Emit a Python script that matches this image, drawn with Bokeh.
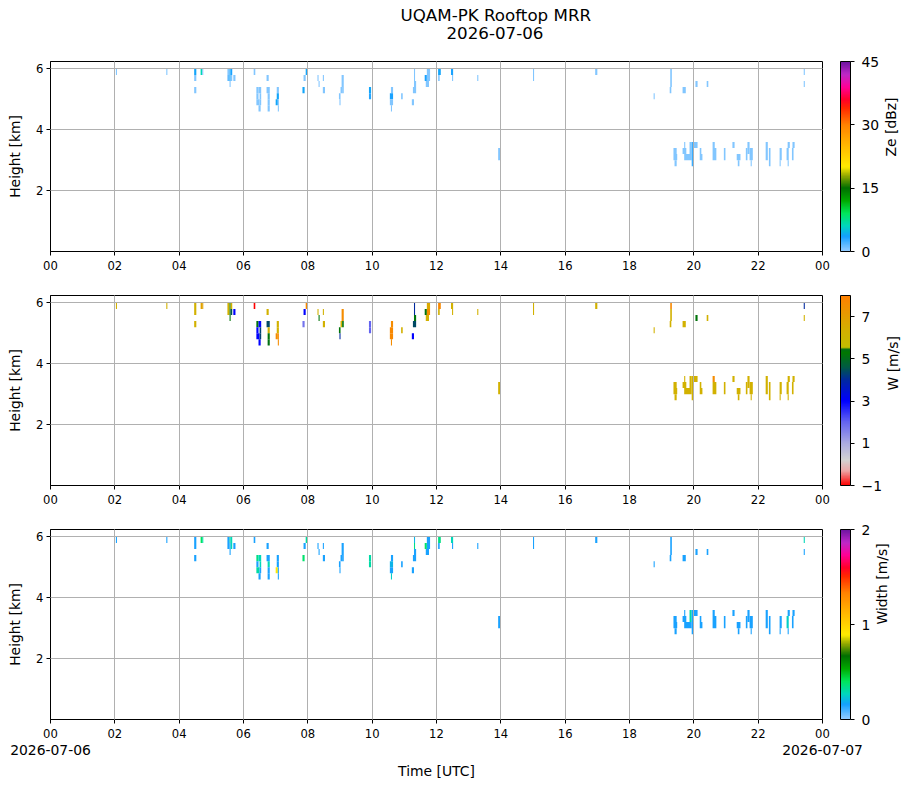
import math
import numpy as np
from bokeh.plotting import figure
from bokeh.models import (ColumnDataSource, LinearColorMapper, ColorBar, FixedTicker,
                          LinearAxis, Range1d, Title)
from bokeh.layouts import column
from bokeh.transform import transform
from bokeh.embed import file_html
from bokeh.resources import INLINE

FONT = "DejaVu Sans"

# ---------------- text / ticks ----------------
title_line1 = "UQAM-PK Rooftop MRR"
title_line2 = "2026-07-06"
hour_ticks = [0, 2, 4, 6, 8, 10, 12, 14, 16, 18, 20, 22, 24]
hour_labels = ["00", "02", "04", "06", "08", "10", "12", "14", "16", "18", "20", "22", "00"]
date_ticks = [0, 24]
date_labels = ["2026-07-06", "2026-07-07"]
height_ticks = [2, 4, 6]
x_label = "Time [UTC]"
y_label = "Height [km]"

ze_label, ze_ticks, ze_lim = "Ze [dBz]", [0, 15, 30, 45], (0, 45)
w_label, w_ticks, w_lim = "W [m/s]", [-1, 1, 3, 5, 7], (-1, 8)
sw_label, sw_ticks, sw_lim = "Width [m/s]", [0, 1, 2], (0, 2)

# ---------------- data: radar cells (time in minutes UTC, height gates in km) ----------------
t_start = [122, 216, 268, 268, 268, 280, 283, 330, 330, 334, 334, 334, 336, 336, 341, 379,
           403, 384, 388, 384, 390, 384, 390, 388, 403, 405, 405, 405, 422, 422, 420, 424,
           424, 470, 472, 476, 498, 500, 508, 508, 543, 543, 541, 544, 538, 539, 594, 594,
           635, 633, 633, 635, 654, 674, 678, 678, 678, 676, 698, 702, 702, 700, 719, 723,
           723, 747, 749, 796, 900, 1016, 1125, 1156, 1156, 1155, 1179, 1203, 1224, 1405, 1405,
           835, 1162, 1162, 1164, 1182, 1179, 1182, 1192, 1196, 1199, 1211, 1211, 1235, 1235,
           1256, 1272, 1280, 1282, 1297, 1300, 1304, 1306, 1334, 1340, 1360, 1360, 1373, 1375,
           1375, 1383, 1384]
t_end = [124, 218, 272, 272, 272, 283, 285, 334, 334, 336, 336, 336, 339, 339, 345, 382,
         407, 388, 393, 388, 393, 390, 393, 392, 409, 409, 409, 409, 426, 426, 424, 426,
         426, 474, 476, 480, 500, 502, 510, 512, 547, 547, 544, 547, 541, 541, 598, 598,
         639, 639, 639, 637, 657, 678, 680, 680, 682, 682, 702, 708, 708, 706, 721, 728,
         726, 751, 751, 798, 902, 1020, 1127, 1159, 1159, 1158, 1185, 1207, 1227, 1407, 1407,
         839, 1168, 1169, 1168, 1184, 1186, 1196, 1196, 1199, 1207, 1214, 1216, 1239, 1242,
         1259, 1276, 1287, 1285, 1300, 1304, 1310, 1308, 1338, 1343, 1364, 1362, 1377, 1377,
         1379, 1386, 1388]
h_bot = [5.8, 5.8, 5.8, 5.6, 5.2, 5.8, 5.8, 5.8, 5.6, 5.8, 5.6, 5.4, 5.8, 5.6, 5.6, 5.8,
         5.6, 5.2, 5.2, 5.0, 5.0, 4.8, 4.8, 4.6, 5.2, 5.0, 4.8, 4.6, 5.2, 5.0, 4.8, 4.8,
         4.6, 5.2, 5.6, 5.8, 5.6, 5.4, 5.6, 5.2, 5.6, 5.4, 5.2, 5.2, 5.0, 4.8, 5.2, 5.0,
         5.2, 5.0, 4.8, 4.6, 5.0, 4.8, 5.8, 5.6, 5.4, 5.2, 5.6, 5.8, 5.6, 5.4, 5.6, 5.8,
         5.6, 5.8, 5.6, 5.6, 5.6, 5.8, 5.0, 5.8, 5.4, 5.2, 5.2, 5.4, 5.4, 5.8, 5.4,
         3.0, 3.2, 3.0, 2.8, 3.4, 3.2, 3.0, 3.2, 2.8, 3.4, 3.2, 3.0, 3.4, 3.0,
         3.0, 3.4, 3.0, 2.8, 3.0, 3.2, 3.0, 2.8, 3.0, 2.8, 3.0, 2.8, 3.0, 2.8,
         3.4, 3.0, 3.4]
h_top = [6.0, 6.0, 6.0, 5.8, 5.4, 6.0, 6.0, 6.0, 5.8, 6.0, 5.8, 5.6, 6.0, 5.8, 5.8, 6.0,
         5.8, 5.4, 5.4, 5.2, 5.2, 5.0, 5.0, 4.8, 5.4, 5.2, 5.0, 4.8, 5.4, 5.2, 5.0, 5.0,
         4.8, 5.4, 5.8, 6.0, 5.8, 5.6, 5.8, 5.4, 5.8, 5.6, 5.4, 5.4, 5.2, 5.0, 5.4, 5.2,
         5.4, 5.2, 5.0, 4.8, 5.2, 5.0, 6.0, 5.8, 5.6, 5.4, 5.8, 6.0, 5.8, 5.6, 5.8, 6.0,
         5.8, 6.0, 5.8, 5.8, 6.0, 6.0, 5.2, 6.0, 5.8, 5.4, 5.4, 5.6, 5.6, 6.0, 5.6,
         3.4, 3.4, 3.2, 3.0, 3.6, 3.4, 3.2, 3.6, 3.6, 3.6, 3.4, 3.2, 3.6, 3.4,
         3.4, 3.6, 3.2, 3.0, 3.4, 3.6, 3.4, 3.0, 3.6, 3.4, 3.4, 3.0, 3.4, 3.0,
         3.6, 3.4, 3.6]
ze_dbz = [0.6, 0.6, 3.8, 0.6, 0.6, 6.5, 0.6, 0.6, 1.5, 3.8, 3.8, 0.6, 3.5, 0.6, 0.6, 0.6,
          0.6, 0.6, 0.6, 0.6, 0.6, 0.6, 0.6, 0.6, 0.6, 0.6, 0.6, 0.6, 0.6, 3.8, 3.8, 0.6,
          0.6, 3.8, 0.6, 3.8, 0.6, 0.6, 0.6, 0.6, 0.6, 0.6, 0.6, 0.6, 0.6, 0.6, 3.8, 3.0,
          0.6, 3.5, 0.6, 0.6, 0.6, 0.6, 0.6, 0.6, 0.6, 0.6, 3.5, 0.6, 0.6, 0.6, 0.6, 3.8,
          0.6, 3.5, 0.6, 0.6, 0.6, 0.6, 0.6, 0.6, 0.6, 0.6, 0.6, 0.6, 0.6, 0.6, 0.6,
          0.6, 0.6, 0.6, 0.6, 0.6, 0.6, 0.6, 0.6, 2.5, 0.6, 0.6, 0.6, 0.6, 0.6,
          0.6, 0.6, 0.6, 0.6, 0.6, 0.6, 0.6, 0.6, 0.6, 0.6, 0.6, 0.6, 0.6, 0.6,
          0.6, 0.6, 0.6]
w_ms = [6.3, 6.3, 6.3, 6.3, 6.3, 6.9, 6.9, 6.3, 6.3, 5.2, 5.2, 5.2, 6.3, 4.5, 3.0, -1.0,
        6.3, 5.2, 3.0, 3.0, 4.3, 3.0, 4.3, 3.0, 4.4, 6.3, 5.2, 5.1, 6.3, 6.3, 7.6, 7.6,
        7.6, 1.8, 3.0, 7.7, 6.3, 5.2, 6.3, 6.3, 7.6, 7.6, 6.3, 5.2, 5.2, 4.0, 2.0, 2.0,
        7.6, 7.7, 7.7, 7.6, 6.3, 3.0, 4.0, 4.0, 5.2, 4.4, 5.2, 6.6, 7.6, 6.3, 4.4, 7.7,
        6.3, 6.3, 6.3, 6.3, 6.3, 6.3, 6.3, 7.7, 6.3, 6.3, 6.3, 5.2, 6.3, 4.0, 6.3,
        6.3, 6.3, 6.3, 6.3, 6.3, 6.3, 6.3, 6.3, 6.3, 6.3, 6.3, 6.3, 7.6, 6.3,
        6.3, 6.3, 6.3, 6.3, 6.3, 6.3, 6.3, 6.3, 6.3, 6.3, 6.3, 6.3, 6.3, 6.3,
        6.3, 6.3, 6.3]
sw_ms = [0.15, 0.15, 0.15, 0.15, 0.15, 0.4, 0.3, 0.15, 0.15, 0.3, 0.15, 0.15, 0.28, 0.28, 0.15, 0.15,
         0.15, 0.35, 0.28, 0.15, 0.28, 0.3, 0.15, 0.15, 0.15, 0.28, 0.15, 0.15, 0.15, 0.15, 0.9, 0.15,
         0.15, 0.38, 0.15, 0.32, 0.15, 0.15, 0.15, 0.15, 0.15, 0.15, 0.15, 0.15, 0.15, 0.15, 0.3, 0.3,
         0.15, 0.2, 0.15, 0.25, 0.15, 0.15, 0.2, 0.35, 0.15, 0.15, 0.38, 0.15, 0.15, 0.15, 0.15, 0.35,
         0.15, 0.28, 0.15, 0.15, 0.15, 0.15, 0.15, 0.15, 0.15, 0.15, 0.15, 0.15, 0.15, 0.28, 0.15,
         0.15, 0.15, 0.15, 0.15, 0.15, 0.15, 0.15, 0.3, 0.15, 0.15, 0.15, 0.15, 0.15, 0.15,
         0.15, 0.15, 0.15, 0.15, 0.15, 0.15, 0.15, 0.15, 0.15, 0.15, 0.15, 0.15, 0.25, 0.15,
         0.15, 0.15, 0.15]

# ---------------- colour maps (style) ----------------
rainbow_anchors = [(0.0, (150, 205, 255)), (3.5 / 45, (20, 160, 255)), (6 / 45, (0, 215, 190)),
                   (9 / 45, (0, 230, 90)), (12 / 45, (0, 170, 0)), (15 / 45, (0, 110, 0)),
                   (18 / 45, (150, 170, 0)), (20 / 45, (255, 235, 0)), (25 / 45, (255, 185, 0)),
                   (30 / 45, (255, 130, 0)), (34 / 45, (255, 40, 0)), (36 / 45, (255, 0, 40)),
                   (39 / 45, (255, 0, 150)), (42 / 45, (190, 40, 200)), (1.0, (110, 20, 160))]
vel_anchors = [(0.0, (255, 0, 0)), (0.7 / 9, (235, 170, 170)), (1.2 / 9, (210, 210, 210)),
               (2 / 9, (170, 170, 225)), (3 / 9, (100, 100, 240)), (4 / 9, (0, 0, 255)),
               (5 / 9, (0, 40, 160)), (5.6 / 9, (0, 90, 70)), (6.3 / 9, (0, 120, 0)),
               (6.45 / 9, (0, 110, 20)), (6.55 / 9, (195, 190, 0)), (7.4 / 9, (212, 175, 0)),
               (8.0 / 9, (228, 158, 0)), (8.6 / 9, (245, 140, 0)), (1.0, (255, 128, 0))]


def make_palette(anchors, n=256):
    pos = np.array([a[0] for a in anchors])
    cols = np.array([a[1] for a in anchors], dtype=float)
    xs = np.linspace(0, 1, n)
    rgb = np.stack([np.interp(xs, pos, cols[:, k]) for k in range(3)], axis=1)
    return ["#%02x%02x%02x" % tuple(int(round(c)) for c in row) for row in rgb]


rainbow = make_palette(rainbow_anchors)
velpal = make_palette(vel_anchors)

source = ColumnDataSource(dict(
    x0=[t / 60 for t in t_start], x1=[t / 60 for t in t_end],
    hb=h_bot, ht=h_top, ze=ze_dbz, w=w_ms, sw=sw_ms))

TICK_PX = "11.6px"
LABEL_PX = "13.9px"
TITLE_PX = "16.7px"


def spacer_axis(standoff):
    # an empty axis used only to reserve blank space in a side panel
    return LinearAxis(y_range_name="cbl", ticker=FixedTicker(ticks=[]),
                      axis_line_color=None, major_tick_line_color=None,
                      minor_tick_line_color=None, major_tick_in=0, major_tick_out=0,
                      major_label_standoff=0, major_label_text_font_size="0px",
                      axis_label=" ", axis_label_text_font_size="1px",
                      axis_label_standoff=standoff)


def make_panel(field, palette, lim, cticks, clabel, first=False, last=False):
    mapper = LinearColorMapper(palette=palette, low=lim[0], high=lim[1])
    p = figure(frame_width=772, frame_height=190,
               x_range=Range1d(0, 24), y_range=Range1d(0, 6.24),
               output_backend="svg", toolbar_location=None,
               min_border_left=42, min_border_right=20,
               min_border_top=61 if first else 14,
               min_border_bottom=59 if last else 30)
    p.quad(left="x0", right="x1", bottom="hb", top="ht", source=source,
           fill_color=transform(field, mapper), line_color=None)

    p.outline_line_color = "black"
    p.outline_line_width = 1
    p.background_fill_color = "white"
    p.border_fill_color = "white"

    p.xgrid.ticker = FixedTicker(ticks=hour_ticks)
    p.ygrid.ticker = FixedTicker(ticks=height_ticks)
    p.grid.grid_line_color = "#b0b0b0"
    p.grid.grid_line_width = 1
    p.grid.level = "overlay"

    for ax in (p.xaxis[0], p.yaxis[0]):
        ax.axis_line_color = "black"
        ax.major_tick_line_color = "black"
        ax.major_tick_in = 0
        ax.major_tick_out = 4
        ax.minor_tick_line_color = None
        ax.major_label_text_font = FONT
        ax.major_label_text_font_size = TICK_PX
        ax.major_label_text_color = "black"
        ax.axis_label_text_font = FONT
        ax.axis_label_text_font_size = LABEL_PX
        ax.axis_label_text_font_style = "normal"
        ax.axis_label_text_color = "black"

    p.xaxis.major_label_standoff = 5
    p.yaxis.major_label_standoff = 3
    p.xaxis.ticker = FixedTicker(ticks=hour_ticks)
    p.xaxis.major_label_overrides = dict(zip(hour_ticks, hour_labels))
    p.yaxis.ticker = FixedTicker(ticks=height_ticks)
    p.yaxis.axis_label = y_label
    p.yaxis.axis_label_standoff = 10

    p.extra_y_ranges = {"cbl": Range1d(0, 1)}
    p.add_layout(spacer_axis(0), "left")
    p.add_layout(spacer_axis(14), "right")

    cb = ColorBar(color_mapper=mapper, ticker=FixedTicker(ticks=cticks),
                  width=10, height=190, padding=0, margin=0,
                  major_tick_in=0, major_tick_out=4, major_tick_line_color="black",
                  minor_tick_line_color=None, bar_line_color="black",
                  label_standoff=7, major_label_text_font=FONT,
                  major_label_text_font_size=LABEL_PX,
                  major_label_text_color="black",
                  major_label_overrides={-1: "\u22121"},
                  border_line_color=None, background_fill_color=None)
    p.add_layout(cb, "right")

    lab = LinearAxis(y_range_name="cbl", ticker=FixedTicker(ticks=[]),
                     axis_line_color=None, major_tick_line_color=None,
                     minor_tick_line_color=None, major_tick_in=0, major_tick_out=0,
                     major_label_standoff=0, major_label_text_font_size="0px",
                     axis_label=clabel,
                     axis_label_standoff=8, axis_label_text_font=FONT,
                     axis_label_text_font_size=LABEL_PX,
                     axis_label_text_font_style="normal",
                     axis_label_text_color="black",
                     axis_label_orientation=math.pi / 2)
    p.add_layout(lab, "right")

    if first:
        p.add_layout(Title(text=" ", text_font_size="1px", standoff=20), "above")
        p.add_layout(Title(text=title_line2, align="left", offset=396,
                           text_font=FONT, text_font_size=TITLE_PX,
                           text_color="black",
                           text_font_style="normal", standoff=0), "above")
        p.add_layout(Title(text=title_line1, align="left", offset=350,
                           text_font=FONT, text_font_size=TITLE_PX,
                           text_color="black",
                           text_font_style="normal", standoff=0), "above")
    if last:
        dax = LinearAxis(ticker=FixedTicker(ticks=date_ticks),
                         major_label_overrides=dict(zip(date_ticks, date_labels)),
                         axis_line_color=None, major_tick_line_color=None,
                         minor_tick_line_color=None, major_tick_in=0, major_tick_out=0,
                         major_label_standoff=4, major_label_text_font=FONT,
                         major_label_text_font_size=LABEL_PX,
                         major_label_text_color="black",
                         axis_label=x_label, axis_label_standoff=5,
                         axis_label_text_font=FONT, axis_label_text_font_size=LABEL_PX,
                         axis_label_text_color="black",
                         axis_label_text_font_style="normal")
        p.add_layout(dax, "below")
    return p


p1 = make_panel("ze", rainbow, ze_lim, ze_ticks, ze_label, first=True)
p2 = make_panel("w", velpal, w_lim, w_ticks, w_label)
p3 = make_panel("sw", rainbow, sw_lim, sw_ticks, sw_label, last=True)

layout = column(p1, p2, p3, spacing=0)
open("out.html", "w").write(file_html(layout, INLINE))
